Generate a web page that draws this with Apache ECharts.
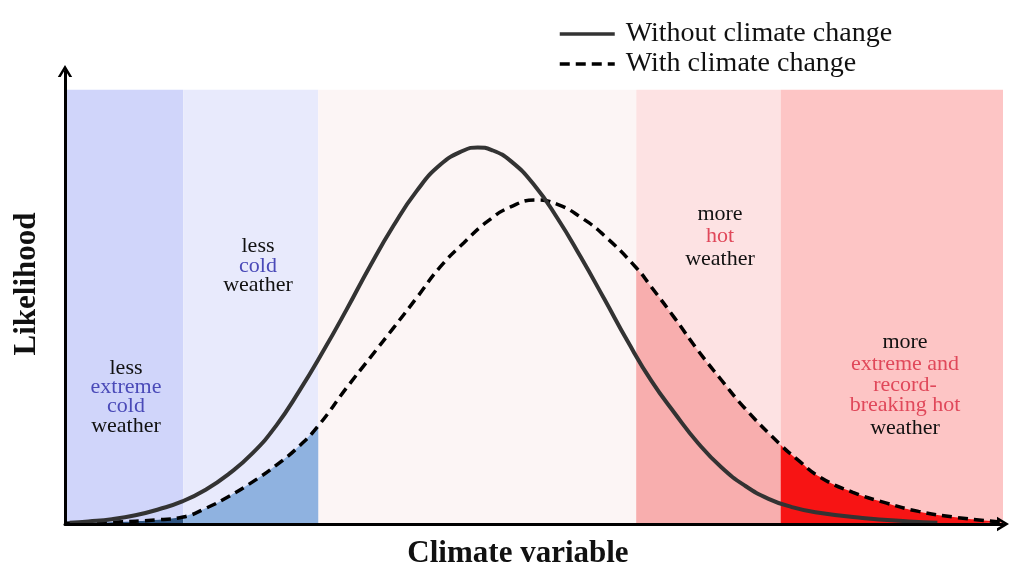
<!DOCTYPE html>
<html>
<head>
<meta charset="utf-8">
<script src="https://cdn.jsdelivr.net/npm/echarts@6/dist/echarts.min.js"></script>
<style>
html,body{margin:0;padding:0;background:#fff;}
#chart{width:1024px;height:575px;}
</style>
</head>
<body>
<div id="chart"></div>
<script>
// ---- data (climate variable units 0..100, likelihood units 0..100) ----
const seriesNames = ['Without climate change', 'With climate change'];
const solidCurve = [[0.5,0.3],[2.5,0.6],[5,1.1],[7.5,2.0],[10,3.4],[12.5,5.2],[15,7.9],[17.5,11.6],[20,16.3],[22.5,22.6],[25,30.7],[27.5,39.7],[30,49.3],[32.5,59.3],[35,68.6],[37.5,76.7],[40,82.7],[42.5,86.0],[44,86.7],[45.5,86.1],[47.5,83.6],[50,78.1],[52.5,70.4],[55,61.4],[57.5,51.8],[60,42.0],[62.5,33.0],[65,25.5],[67.5,18.6],[70,13.0],[72.5,8.8],[75,5.8],[77.5,3.9],[80,2.7],[85,1.4],[90,0.6],[93,0.3]];
const dashedCurve = [[0,0.2],[5,0.4],[10,1.0],[12.6,1.6],[15,3.6],[17.5,6.4],[20,9.7],[22.5,13.5],[25,18.0],[27.0,22.6],[30,31.3],[32.5,38.2],[35,45.1],[37.5,52.1],[40,59.2],[42.5,64.7],[45,69.6],[47.5,73.0],[50.2,74.6],[52.5,73.6],[55,70.6],[57.5,66.4],[60.9,59.0],[62.5,54.6],[65,47.4],[67.5,39.9],[70,33.1],[72.5,26.6],[76.3,18.2],[78,15.0],[80.5,10.8],[84,7.3],[87.6,4.8],[91,2.9],[94.7,1.6],[100,0.4]];
const bandEdges = [0, 12.6, 27.0, 60.9, 76.3, 100];
const bandTop = 100;
// fill segments: [from, to] on the climate variable axis
const fillRanges = [[0,12.6],[12.6,27.0],[60.9,76.3],[76.3,100]];
const labelLines = [
  ['less','extreme','cold','weather'],
  ['less','cold','weather'],
  ['more','hot','weather'],
  ['more','extreme and','record-','breaking hot','weather']
];

// ---- styles ----
const bandColors = ['#d0d5fa','#e8eafc','#fcf5f5','#fde2e3','#fdc5c5'];
const fillColors = ['#2f5583','#8fb2e0','#f8aeae','#f71414'];
const serif = 'Liberation Serif';

const chart = echarts.init(document.getElementById('chart'));

const bandData = [];
for (let i = 0; i < bandColors.length; i++) {
  bandData.push([
    {xAxis: bandEdges[i], yAxis: 0, itemStyle: {color: bandColors[i]}},
    {xAxis: bandEdges[i+1], yAxis: bandTop}
  ]);
}

const fillSeries = fillRanges.map((r, i) => ({
  type: 'line',
  name: 'fill' + i,
  data: dashedCurve.filter(p => p[0] >= r[0] && p[0] <= r[1]),
  smooth: true,
  symbol: 'none',
  lineStyle: {width: 0},
  areaStyle: {color: fillColors[i], opacity: 1},
  silent: true,
  z: 3
}));

// text annotations
const groups = [
  {x: 126, ys: [368,387,406,426], colors: ['#111','#4a4ab8','#4a4ab8','#111']},
  {x: 258, ys: [246,266,285], colors: ['#111','#4a4ab8','#111']},
  {x: 720, ys: [214,236,259], colors: ['#111','#e0485a','#111']},
  {x: 905, ys: [342,364,385,405,428], colors: ['#111','#e0485a','#e0485a','#e0485a','#111']}
];
const graphics = [];
groups.forEach((g, gi) => {
  labelLines[gi].forEach((t, li) => {
    graphics.push({
      type: 'text', x: g.x, y: g.ys[li], z: 100,
      style: {text: t, fill: g.colors[li], font: '22px "' + serif + '"', textAlign: 'center', textVerticalAlign: 'middle'}
    });
  });
});
graphics.push({
  type: 'text', x: 27, y: 284, rotation: Math.PI/2, z: 100,
  style: {text: 'Likelihood', fill: '#111', font: 'bold 31px "' + serif + '"', textAlign: 'center', textVerticalAlign: 'middle'}
});
graphics.push({
  type: 'text', x: 518, y: 554, z: 100,
  style: {text: 'Climate variable', fill: '#111', font: 'bold 31px "' + serif + '"', textAlign: 'center', textVerticalAlign: 'middle'}
});

const arrowPath = 'path://M0,10 L6,0 L12,10 L9.6,10 L6,4.0 L2.4,10 Z';
const axisCommon = {
  axisLine: {show: true, lineStyle: {color: '#000', width: 3}, symbol: ['none', arrowPath], symbolSize: [16, 12], symbolOffset: [0, 0]},
  axisTick: {show: false}, axisLabel: {show: false}, splitLine: {show: false}, z: 20
};

chart.setOption({
  animation: false,
  backgroundColor: '#fff',
  grid: {left: 65, right: 21, top: 71, bottom: 51},
  legend: {
    data: seriesNames,
    orient: 'vertical',
    left: 553, top: 15,
    itemWidth: 55, itemHeight: 14, itemGap: 2,
    itemStyle: {opacity: 0},
    lineStyle: {width: 3.5},
    textStyle: {fontFamily: serif, fontSize: 28, color: '#111', lineHeight: 28, padding: [0,0,0,6]},
    selectedMode: false
  },
  xAxis: Object.assign({type: 'value', min: 0, max: 100}, axisCommon),
  yAxis: Object.assign({type: 'value', min: 0, max: 104.3}, axisCommon),
  graphic: graphics,
  series: [
    {
      type: 'line', name: 'bands', data: [], symbol: 'none', silent: true, z: 1,
      markArea: {silent: true, data: bandData}
    },
    ...fillSeries,
    {
      type: 'line', name: seriesNames[1], data: dashedCurve, smooth: true, symbol: 'none',
      lineStyle: {color: '#000', width: 3.5, type: [10, 6]}, itemStyle: {color: '#000'}, z: 5
    },
    {
      type: 'line', name: seriesNames[0], data: solidCurve, smooth: true, symbol: 'none',
      lineStyle: {color: '#333', width: 4}, itemStyle: {color: '#333'}, z: 6
    }
  ]
});
</script>
</body>
</html>
